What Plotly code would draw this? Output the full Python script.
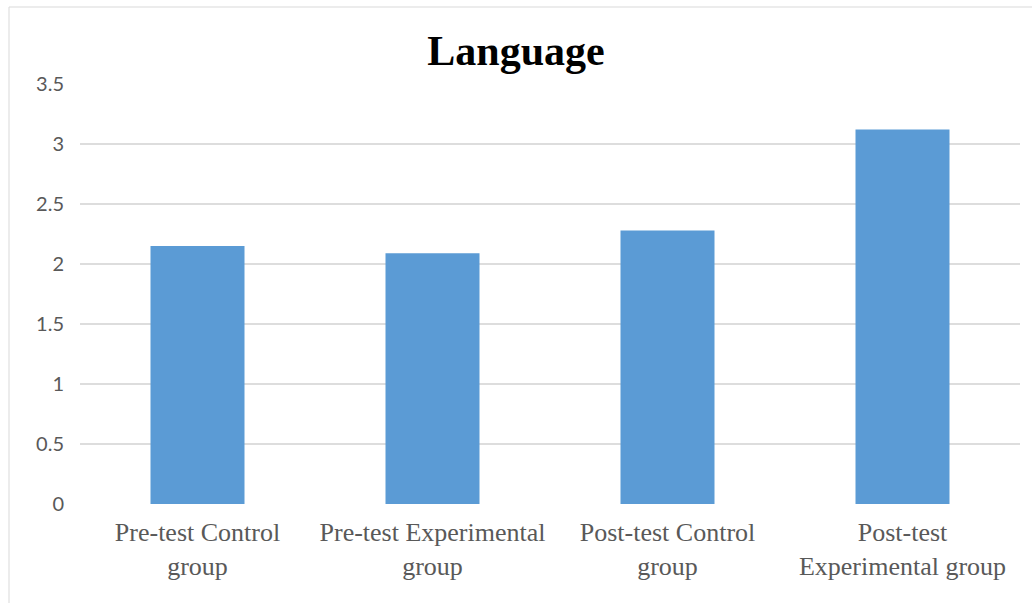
import plotly.graph_objects as go

categories = ["Pre-test Control<br>group", "Pre-test Experimental<br>group",
              "Post-test Control<br>group", "Post-test<br>Experimental group"]
values = [2.15, 2.09, 2.28, 3.12]
y_ticks = [0, 0.5, 1, 1.5, 2, 2.5, 3, 3.5]
y_tick_labels = ["0", "0.5", "1", "1.5", "2", "2.5", "3", "3.5"]
title_text = "Language"

fig = go.Figure(go.Bar(x=categories, y=values, marker=dict(color="#5B9BD5", line=dict(width=0))))

L, R, T, B = 80, 12, 84, 99
W, H = 1032, 603
pw, ph = W - L - R, H - T - B

fig.update_layout(
    width=W, height=H,
    margin=dict(l=L, r=R, t=T, b=B, pad=0),
    paper_bgcolor="white", plot_bgcolor="white",
    bargap=0.6,
    showlegend=False,
    title=dict(text="<b>" + title_text + "</b>", x=516 / W, xanchor="center", xref="container",
               y=1 - 50 / H, yanchor="middle", yref="container",
               font=dict(family="Liberation Serif", size=42, color="black")),
    xaxis=dict(showgrid=False, showline=False, zeroline=False, ticks="",
               tickfont=dict(family="Liberation Serif", size=26, color="#595959"),
               ticklabelstandoff=10),
    yaxis=dict(range=[0, 3.5], tickvals=y_ticks, ticktext=y_tick_labels,
               showgrid=True, gridcolor="#DDDDDD", gridwidth=1.5,
               zeroline=False, showline=False, ticks="",
               tickfont=dict(family="Lato", size=20, color="#595959"),
               ticklabelstandoff=15),
    shapes=[dict(type="rect", xref="paper", yref="paper",
                 x0=(9 - L) / pw, x1=1.05, y0=-0.5, y1=1 + (T - 7) / ph,
                 line=dict(color="#D9D9D9", width=1), fillcolor="rgba(0,0,0,0)", layer="below")],
)

fig.write_html("out.html")
